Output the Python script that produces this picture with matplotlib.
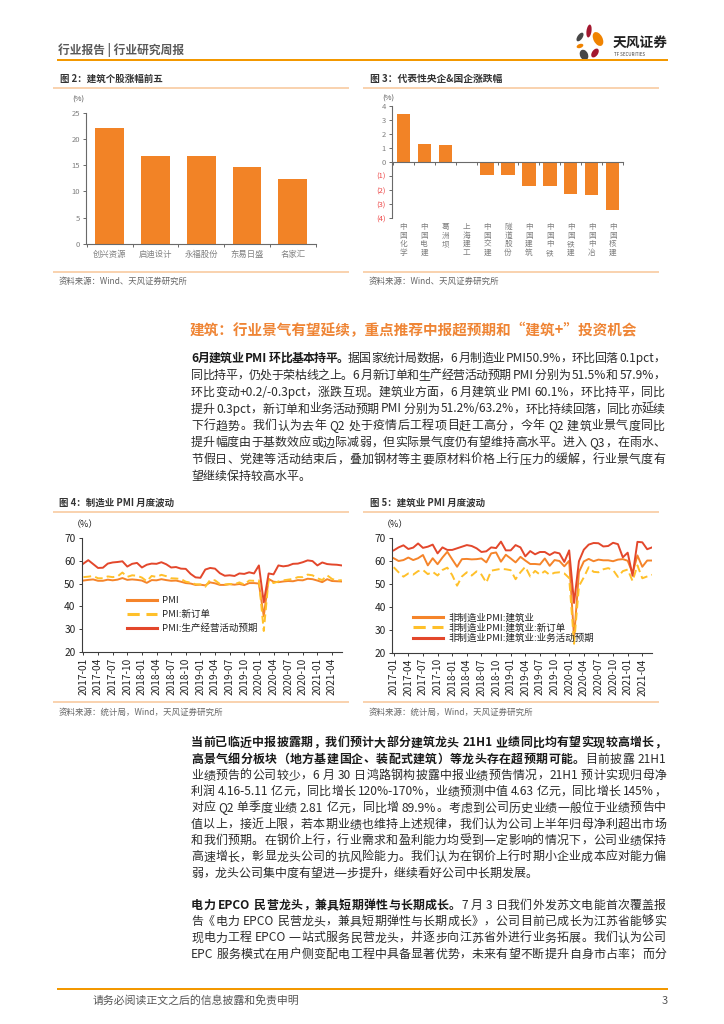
import matplotlib
matplotlib.use('Agg')
import matplotlib.pyplot as plt
from matplotlib.lines import Line2D
from matplotlib.patches import Ellipse
from matplotlib import ft2font
from matplotlib.font_manager import findfont, FontProperties
import numpy as np

FAM = ['Noto Sans CJK SC', 'DejaVu Sans']
plt.rcParams['font.family'] = FAM
plt.rcParams['axes.unicode_minus'] = False

# ---------------- data ----------------
stocks = ['创兴资源', '启迪设计', '永福股份', '东易日盛', '名家汇']
stock_gain = [22.0, 16.8, 16.8, 14.6, 12.3]

soe_names = ['中国化学', '中国电建', '葛洲坝', '上海建工', '中国交建', '隧道股份',
             '中国建筑', '中国中铁', '中国铁建', '中国中冶', '中国核建']
soe_change = [3.38, 1.31, 1.19, 0.0, -0.89, -0.92, -1.67, -1.69, -2.26, -2.33, -3.41]
soe_yticks = [4, 3, 2, 1, 0, -1, -2, -3, -4]
soe_yticklabels = ['4', '3', '2', '1', '0', '(1)', '(2)', '(3)', '(4)']

month_ticklabels = ['2017-01', '2017-04', '2017-07', '2017-10', '2018-01', '2018-04',
                    '2018-07', '2018-10', '2019-01', '2019-04', '2019-07', '2019-10',
                    '2020-01', '2020-04', '2020-07', '2020-10', '2021-01', '2021-04']

mfg_pmi = [51.3, 51.6, 51.8, 51.2, 51.2, 51.7, 51.4, 51.7, 52.4, 51.6, 51.8, 51.6,
           51.3, 50.3, 51.5, 51.4, 51.9, 51.5, 51.2, 51.3, 50.8, 50.2, 50.0, 49.4,
           49.5, 49.2, 50.5, 50.1, 49.4, 49.4, 49.7, 49.5, 49.8, 49.3, 50.2, 50.2,
           50.0, 35.7, 52.0, 50.8, 50.6, 50.9, 51.1, 51.0, 51.5, 51.4, 52.1, 51.9,
           51.3, 50.6, 51.9, 51.1, 51.0, 50.9]
mfg_new = [52.8, 53.0, 53.3, 52.3, 52.3, 53.1, 52.8, 53.1, 54.8, 52.9, 53.6, 53.4,
           52.6, 51.0, 53.3, 52.9, 53.8, 53.2, 52.3, 52.2, 52.0, 50.8, 50.4, 49.7,
           49.6, 48.6, 51.6, 51.4, 49.8, 49.6, 49.8, 49.7, 50.5, 49.6, 51.3, 51.2,
           51.4, 29.3, 52.0, 50.2, 50.9, 51.4, 51.7, 52.0, 52.8, 52.8, 53.9, 53.6,
           52.3, 51.5, 53.6, 52.0, 51.3, 51.5]
mfg_exp = [58.7, 60.2, 58.5, 56.8, 56.9, 58.7, 59.2, 59.4, 59.7, 57.4, 58.6, 59.0,
           57.0, 58.2, 58.7, 58.6, 59.3, 58.4, 57.0, 57.2, 56.5, 56.4, 54.2, 52.7,
           52.5, 56.1, 56.8, 56.5, 54.5, 53.4, 53.6, 53.3, 54.4, 54.2, 54.9, 54.4,
           57.9, 41.8, 54.4, 54.0, 57.9, 57.5, 57.8, 58.6, 58.7, 59.3, 60.1, 59.8,
           57.9, 59.2, 58.5, 58.3, 58.2, 57.9]

con_pmi = [61.1, 59.9, 60.3, 61.4, 60.3, 61.1, 62.5, 58.0, 61.1, 58.5, 61.4, 63.9,
           60.6, 57.4, 60.7, 60.8, 60.6, 60.7, 61.0, 59.3, 63.2, 63.6, 59.6, 62.6,
           61.0, 59.3, 61.7, 60.1, 58.6, 58.6, 58.4, 61.0, 57.8, 60.3, 59.9, 57.6,
           60.0, 26.6, 55.1, 59.7, 60.8, 59.8, 60.5, 60.2, 60.2, 59.8, 60.5, 60.7,
           60.0, 54.7, 62.3, 57.4, 60.1, 60.1]
con_new = [57.2, 55.0, 53.1, 54.5, 54.0, 55.5, 56.0, 54.2, 55.2, 53.6, 56.0, 57.0,
           53.8, 49.2, 53.2, 55.0, 53.6, 55.4, 54.0, 50.5, 55.7, 56.1, 56.5, 56.3,
           55.9, 52.0, 55.0, 57.4, 53.2, 55.6, 54.0, 55.5, 53.9, 54.8, 55.0, 54.5,
           52.5, 24.0, 49.0, 52.8, 57.2, 55.2, 55.0, 56.3, 56.8, 56.0, 53.0, 55.5,
           56.2, 51.2, 58.0, 52.4, 53.2, 53.9]
con_exp = [64.5, 65.8, 66.7, 65.1, 65.7, 67.5, 65.6, 66.1, 67.0, 63.2, 65.8, 64.7,
           64.7, 65.4, 66.1, 66.8, 66.4, 65.4, 63.8, 64.1, 65.8, 65.5, 68.3, 64.5,
           64.5, 66.8, 65.8, 61.9, 64.2, 62.8, 63.8, 63.8, 62.5, 63.7, 63.2, 59.5,
           64.5, 41.7, 59.8, 64.8, 67.0, 67.7, 67.6, 66.2, 66.4, 67.8, 67.2, 61.5,
           63.5, 53.5, 68.2, 68.0, 65.0, 65.8]

para1 = [
    [("6月建筑业 PMI 环比基本持平。", True), ("据国家统计局数据，6 月制造业 PMI50.9%，环比回落 0.1pct，", False)],
    [("同比持平，仍处于荣枯线之上。6 月新订单和生产经营活动预期 PMI 分别为 51.5%和 57.9%，", False)],
    [("环比变动+0.2/-0.3pct，涨跌互现。建筑业方面，6 月建筑业 PMI 60.1%，环比持平，同比", False)],
    [("提升 0.3pct，新订单和业务活动预期 PMI 分别为 51.2%/63.2%，环比持续回落，同比亦延续", False)],
    [("下行趋势。我们认为去年 Q2 处于疫情后工程项目赶工高分，今年 Q2 建筑业景气度同比", False)],
    [("提升幅度由于基数效应或边际减弱，但实际景气度仍有望维持高水平。进入 Q3，在雨水、", False)],
    [("节假日、党建等活动结束后，叠加钢材等主要原材料价格上行压力的缓解，行业景气度有", False)],
    [("望继续保持较高水平。", False)],
]
para2 = [
    [("当前已临近中报披露期，我们预计大部分建筑龙头 21H1 业绩同比均有望实现较高增长，", True)],
    [("高景气细分板块（地方基建国企、装配式建筑）等龙头存在超预期可能。", True), ("目前披露 21H1", False)],
    [("业绩预告的公司较少，6 月 30 日鸿路钢构披露中报业绩预告情况，21H1 预计实现归母净", False)],
    [("利润 4.16-5.11 亿元，同比增长 120%-170%，业绩预测中值 4.63 亿元，同比增长 145%，", False)],
    [("对应 Q2 单季度业绩 2.81 亿元，同比增 89.9%。考虑到公司历史业绩一般位于业绩预告中", False)],
    [("值以上，接近上限，若本期业绩也维持上述规律，我们认为公司上半年归母净利超出市场", False)],
    [("和我们预期。在钢价上行，行业需求和盈利能力均受到一定影响的情况下，公司业绩保持", False)],
    [("高速增长，彰显龙头公司的抗风险能力。我们认为在钢价上行时期小企业成本应对能力偏", False)],
    [("弱，龙头公司集中度有望进一步提升，继续看好公司中长期发展。", False)],
]
para3 = [
    [("电力 EPCO 民营龙头，兼具短期弹性与长期成长。", True), ("7 月 3 日我们外发苏文电能首次覆盖报", False)],
    [("告《电力 EPCO 民营龙头，兼具短期弹性与长期成长》，公司目前已成长为江苏省能够实", False)],
    [("现电力工程 EPCO 一站式服务民营龙头，并逐步向江苏省外进行业务拓展。我们认为公司", False)],
    [("EPC 服务模式在用户侧变配电工程中具备显著优势，未来有望不断提升自身市占率；而分", False)],
]

# ---------------- colours ----------------
C_BAR = '#F28326'
C_OR = '#F5842A'
C_YL = '#FFC02A'
C_RD = '#E3472B'
C_LINE = '#F8C596'
C_HEAD = '#F39800'
C_TXT = '#2b2b2b'
C_BOLD = '#1a1a1a'
C_GRAY = '#808080'

W, H = 724, 1024
fig = plt.figure(figsize=(7.24, 10.24), dpi=100)


def fx(x):
    return x / W


def fy(y):
    return 1 - y / H


def ax_px(l, t, r, b):
    return fig.add_axes([fx(l), fy(b), (r - l) / W, (b - t) / H])


def hline_px(x0, x1, y, color, lw_px):
    fig.add_artist(Line2D([fx(x0), fx(x1)], [fy(y), fy(y)], transform=fig.transFigure,
                          color=color, lw=lw_px * 0.72, solid_capstyle='butt'))


_fonts = {}


def _font(weight):
    if weight not in _fonts:
        try:
            path = findfont(FontProperties(family='Noto Sans CJK SC', weight=weight))
            f = ft2font.FT2Font(path)
            f.set_size(100, 72)
            _fonts[weight] = f
        except Exception:
            _fonts[weight] = None
    return _fonts[weight]


def adv_em(ch, weight):
    f = _font(weight)
    if f is not None:
        try:
            g = f.load_char(ord(ch))
            return g.linearHoriAdvance / 65536 / 100
        except Exception:
            pass
    if ord(ch) > 0x2000:
        return 1.0
    if ch == ' ':
        return 0.23
    return 0.56


def text_em(s, weight):
    return sum(adv_em(c, weight) for c in s)


def put_text(x0, yc, s, fs, weight='normal', color=C_TXT, ha='left'):
    fs_px = fs / 0.72
    fig.text(fx(x0), fy(yc + 0.36 * fs_px), s, fontsize=fs, fontweight=weight,
             color=color, ha=ha, va='baseline')


def fit_text(x0, x1, yc, s, weight='normal', color=C_TXT):
    fs = (x1 - x0) / text_em(s, weight) * 0.72
    put_text(x0, yc, s, fs, weight, color)
    return fs


def jline(x0, x1, yc, segs, fs, justify=True):
    toks = []
    for s, b in segs:
        i = 0
        while i < len(s):
            ch = s[i]
            if ord(ch) < 128 and ch != ' ':
                j = i
                while j < len(s) and ord(s[j]) < 128 and s[j] != ' ':
                    j += 1
                toks.append((s[i:j], b))
                i = j
            else:
                toks.append((ch, b))
                i += 1
    fs_px = fs / 0.72
    widths = [text_em(t, 'bold' if b else 'normal') * fs_px for t, b in toks]
    gap = 0
    if justify and len(toks) > 1:
        gap = (x1 - x0 - sum(widths)) / (len(toks) - 1)
    x = x0
    base = yc + 0.36 * fs_px
    for (t, b), w in zip(toks, widths):
        if t != ' ':
            fig.text(fx(x), fy(base), t, fontsize=fs, fontweight='bold' if b else 'normal',
                     color=C_BOLD if b else C_TXT, ha='left', va='baseline')
        x += w + gap


# ---------------- page header / footer ----------------
fit_text(58, 184, 50, '行业报告 | 行业研究周报', 'bold', '#595959')
hline_px(57, 668, 60, C_HEAD, 2.0)
hline_px(57, 668, 989, C_HEAD, 2.0)
fit_text(93, 300, 1000, '请务必阅读正文之后的信息披露和免责申明', 'normal', '#555555')
put_text(668, 1000, '3', 8, 'normal', '#555555', ha='right')

# logo
axl = ax_px(568, 20, 612, 64)
axl.set_xlim(568, 612)
axl.set_ylim(64, 20)
axl.axis('off')
for (cx, cy, w, h, ang, col) in [(589, 31, 5, 13, 8, '#A3172F'), (598, 39, 9, 15, -28, '#F08300'),
                                  (580, 37, 5, 10, 35, '#474747'), (580, 46, 4, 7, 70, '#F08300'),
                                  (584, 55, 8, 11, -25, '#474747'), (595, 53, 6, 10, 35, '#A3172F')]:
    axl.add_patch(Ellipse((cx, cy), w, h, angle=ang, color=col, lw=0))
fit_text(613, 668, 42, '天风证券', 'bold', '#222222')
fit_text(614, 645, 54, 'TF SECURITIES', 'normal', '#444444')

# ---------------- chart titles and frame lines ----------------
fit_text(60, 163, 78, '图 2：建筑个股涨幅前五', 'bold', '#333333')
fit_text(370, 503, 78, '图 3：代表性央企&国企涨跌幅', 'bold', '#333333')
fit_text(59, 174, 502, '图 4：制造业 PMI 月度波动', 'bold', '#333333')
fit_text(370, 485, 502, '图 5：建筑业 PMI 月度波动', 'bold', '#333333')
for (x0, x1, y) in [(53, 349, 88), (363, 659, 88), (53, 349, 271.7), (363, 659, 271.7),
                    (53, 349, 512), (363, 659, 512), (53, 349, 702), (363, 659, 702)]:
    hline_px(x0, x1, y, C_LINE, 1.5)
fit_text(59, 188, 281, '资料来源：Wind、天风证券研究所', 'normal', '#666666')
fit_text(369, 499, 281, '资料来源：Wind、天风证券研究所', 'normal', '#666666')
fit_text(59, 223, 712, '资料来源：统计局，Wind，天风证券研究所', 'normal', '#666666')
fit_text(369, 533, 712, '资料来源：统计局，Wind，天风证券研究所', 'normal', '#666666')


def style_spines(ax, color):
    for s in ['top', 'right']:
        ax.spines[s].set_visible(False)
    for s in ['left', 'bottom']:
        ax.spines[s].set_color(color)
        ax.spines[s].set_linewidth(0.8)


# ---------------- chart 2 ----------------
ax2 = ax_px(86, 112.7, 315.7, 244)
ax2.bar(np.arange(len(stocks)), stock_gain, width=0.63, color=C_BAR, lw=0)
ax2.set_xlim(-0.52, len(stocks) - 0.5)
ax2.set_ylim(0, 25)
ax2.set_yticks([0, 5, 10, 15, 20, 25])
ax2.set_xticks(np.arange(len(stocks)))
ax2.set_xticklabels(stocks)
ax2.set_xticks(np.arange(len(stocks) + 1) - 0.5, minor=True)
style_spines(ax2, '#6a6a6a')
ax2.tick_params(axis='x', which='major', length=0, pad=4, labelsize=6, labelcolor=C_GRAY)
ax2.tick_params(axis='x', which='minor', length=2.5, width=0.7, color='#6a6a6a', direction='out')
ax2.tick_params(axis='y', length=2.5, width=0.7, color='#6a6a6a', pad=2, labelsize=5.5, labelcolor=C_GRAY)
put_text(72, 99, '(%)', 5.5, 'normal', '#555555')

# ---------------- chart 3 ----------------
ax3 = ax_px(392.3, 105.7, 623.3, 218.3)
ax3.bar(np.arange(len(soe_names)), soe_change, width=0.63, color=C_BAR, lw=0)
ax3.set_xlim(-0.52, len(soe_names) - 0.5)
ax3.set_ylim(-4, 4)
ax3.set_yticks(soe_yticks)
ax3.set_yticklabels(soe_yticklabels)
for lbl, v in zip(ax3.get_yticklabels(), soe_yticks):
    lbl.set_color('#EE4B4B' if v < 0 else C_GRAY)
style_spines(ax3, '#6a6a6a')
ax3.spines['bottom'].set_position(('data', 0))
ax3.set_xticks(np.arange(len(soe_names)))
ax3.set_xticklabels(['\n'.join(n) for n in soe_names], linespacing=1.1, va='top')
ax3.set_xticks(np.arange(len(soe_names) + 1) - 0.5, minor=True)
ax3.tick_params(axis='x', which='major', length=0, pad=44, labelsize=5.5, labelcolor=C_GRAY)
ax3.tick_params(axis='x', which='minor', length=2.5, width=0.7, color='#6a6a6a', direction='out')
ax3.tick_params(axis='y', length=2.5, width=0.7, color='#6a6a6a', pad=2, labelsize=5.5)
put_text(382, 97.7, '(%)', 5.5, 'normal', '#555555')


# ---------------- PMI charts ----------------
def pmi_chart(ax, s1, s2, s3, labels, leg_anchor, labelspacing):
    x = np.arange(len(s1))
    ax.plot(x, s1, color=C_OR, lw=1.4, label=labels[0])
    ax.plot(x, s2, color=C_YL, lw=1.4, ls=(0, (4, 2.2)), label=labels[1])
    ax.plot(x, s3, color=C_RD, lw=1.4, label=labels[2])
    ax.set_ylim(20, 70)
    ax.set_yticks([20, 30, 40, 50, 60, 70])
    ax.set_xlim(-0.35, len(s1) - 0.95)
    ax.set_xticks(np.arange(len(month_ticklabels)) * 3)
    ax.set_xticklabels(month_ticklabels, rotation=90)
    style_spines(ax, '#3c3c3c')
    ax.tick_params(axis='both', length=2.5, width=0.7, color='#3c3c3c', labelsize=7.3,
                   labelcolor='#222222')
    ax.tick_params(axis='x', pad=1.2)
    ax.tick_params(axis='y', pad=2)
    leg = ax.legend(loc='upper left', bbox_to_anchor=leg_anchor, frameon=False, fontsize=6.8,
                    handlelength=3.2, handletextpad=0.5, labelspacing=labelspacing,
                    borderpad=0, borderaxespad=0)
    for ln in leg.get_lines():
        ln.set_linewidth(2.2)
    for t in leg.get_texts():
        t.set_color('#222222')


ax4 = ax_px(81.7, 537.7, 342, 652.3)
pmi_chart(ax4, mfg_pmi, mfg_new, mfg_exp, ['PMI', 'PMI:新订单', 'PMI:生产经营活动预期'],
          (0.174, 0.49), 0.5)
put_text(72, 524, '（%）', 6.5, 'normal', '#222222')

ax5 = ax_px(392, 537.7, 652.3, 653)
pmi_chart(ax5, con_pmi, con_new, con_exp,
          ['非制造业PMI:建筑业', '非制造业PMI:建筑业:新订单', '非制造业PMI:建筑业:业务活动预期'],
          (0.081, 0.345), 0.1)
put_text(382, 524, '（%）', 6.5, 'normal', '#222222')

# ---------------- body text ----------------
fit_text(190, 637, 330, '建筑：行业景气有望延续，重点推荐中报超预期和“建筑+”投资机会', 'bold', '#EF8535')

FS = 8.6
for i, segs in enumerate(para1):
    jline(191, 665, 357.5 + 16.9 * i, segs, FS, justify=(i < len(para1) - 1))
for i, segs in enumerate(para2):
    jline(191, 666, 742 + 16.3 * i, segs, FS, justify=(i < len(para2) - 1))
for i, segs in enumerate(para3):
    jline(191, 666, 904.5 + 16.3 * i, segs, FS, justify=True)

fig.savefig('out.png', dpi=100)
